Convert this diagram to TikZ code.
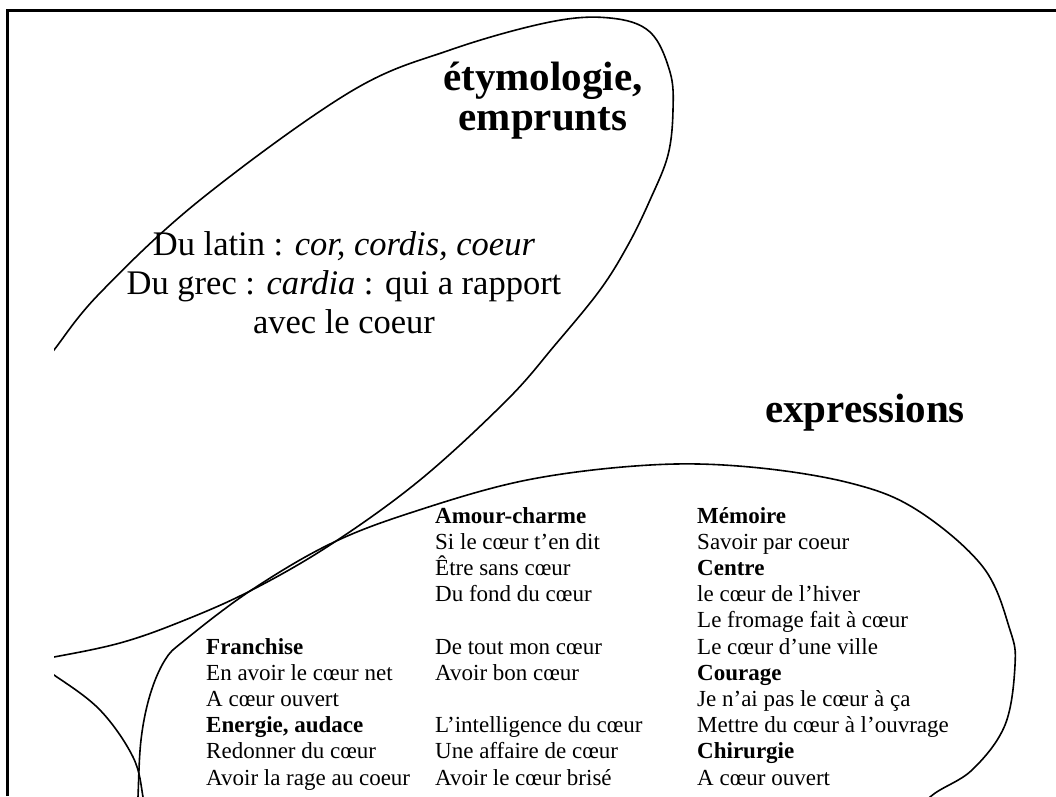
\documentclass[tikz,border=0pt]{standalone}
\usepackage{fontspec}
\setmainfont{Liberation Serif}
\begin{document}
\begin{tikzpicture}[x=1pt, y=-1pt,
    petal/.style={line width=1.6pt, line join=round},
    frameline/.style={line width=3pt},
    head/.style={inner sep=0pt, align=center, font=\fontsize{41}{40}\selectfont\bfseries},
    origin/.style={inner sep=0pt, align=center, font=\fontsize{34.5}{39}\selectfont},
    listcol/.style={inner sep=0pt, align=left, anchor=base west, font=\fontsize{23}{26.2}\selectfont}
  ]
  \useasboundingbox (0,0) rectangle (1056,796);
  \fill[white] (0,0) rectangle (1056,796);
  % cadre
  \draw[frameline] (7,796) -- (7,10) -- (1056,10);

  % petales
  \begin{scope}
    \clip (54,0) rectangle (1056,796);
    \draw[petal] plot[smooth, tension=0.6] coordinates {(30,382) (54,350) (100,293) (200,200) (350,92) (450,50) (550,22) (610,18) (650,32) (670,72) (673,110) (668,155) (650,200) (628,245) (600,290) (555,345) (507,400) (420,480) (330,545) (250,591) (180,622) (120,643) (54,657) (20,662)};
    \draw[petal] plot[smooth, tension=0.6] coordinates {(137,830) (138,797) (141,740) (150,695) (165,660) (185,640) (250,591) (330,544) (413,512) (527,480) (650,465) (750,467) (850,483) (917,510) (983,567) (1010,630) (1015,665) (1005,725) (972,770) (930,797) (905,830)};
    \draw[petal] plot[smooth, tension=0.6] coordinates {(20,655) (54,675) (100,710) (133,757) (143,797) (146,830)};
  \end{scope}

  % textes (ancre = ligne de base de la derniere ligne)
  \node[head, anchor=base] (etym) at (543,130) {étymologie,\\emprunts};
  \node[origin, anchor=base] (latin) at (344,333) {Du latin : \textit{cor, cordis, coeur}\\Du grec : \textit{cardia} : qui a rapport\\avec le coeur};
  \node[head, anchor=base west] (expr) at (765,422) {expressions};

  \node[listcol] (franchise) at (206,785) {\textbf{Franchise}\\En avoir le cœur net\\A cœur ouvert\\\textbf{Energie, audace}\\Redonner du cœur\\Avoir la rage au coeur};
  \node[listcol] (amour) at (435,785) {\textbf{Amour-charme}\\Si le cœur t’en dit\\Être sans cœur\\Du fond du cœur\\ \\De tout mon cœur\\Avoir bon cœur\\ \\L’intelligence du cœur\\Une affaire de cœur\\Avoir le cœur brisé};
  \node[listcol] (memoire) at (697,785) {\textbf{Mémoire}\\Savoir par coeur\\\textbf{Centre}\\le cœur de l’hiver\\Le fromage fait à cœur\\Le cœur d’une ville\\\textbf{Courage}\\Je n’ai pas le cœur à ça\\Mettre du cœur à l’ouvrage\\\textbf{Chirurgie}\\A cœur ouvert};
\end{tikzpicture}
\end{document}
